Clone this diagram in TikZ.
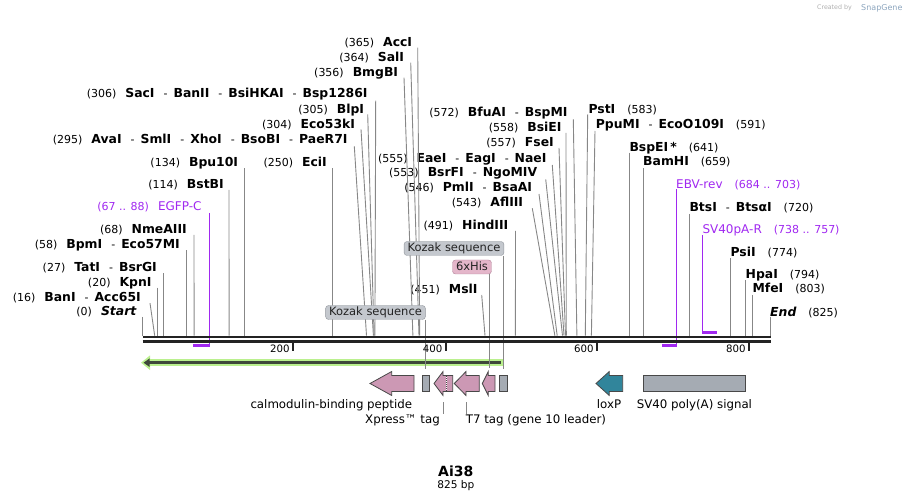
\documentclass[tikz,border=0pt]{standalone}
\usepackage{fontspec}
\setmainfont{DejaVu Sans}
\usetikzlibrary{arrows.meta}

\definecolor{cutgray}{RGB}{135,135,135}
\definecolor{primer}{RGB}{160,40,240}
\definecolor{ftpink}{RGB}{204,152,180}
\definecolor{ftgray}{RGB}{165,171,179}
\definecolor{ftteal}{RGB}{49,133,155}
\definecolor{ftedge}{RGB}{72,72,72}
\definecolor{orfgreen}{RGB}{186,240,142}
\definecolor{orfdark}{RGB}{62,72,58}
\definecolor{kozakfill}{RGB}{196,200,206}
\definecolor{kozakedge}{RGB}{145,150,156}
\definecolor{hisfill}{RGB}{228,182,202}
\definecolor{hisedge}{RGB}{176,130,152}
\definecolor{bbdark}{RGB}{35,35,35}

\newcommand{\bpnum}[1]{{\fontsize{11}{13}\selectfont(#1)}}
\newcommand{\enz}[1]{{\fontsize{12.4}{14}\selectfont\bfseries #1}}
\newcommand{\dsh}{{\fontsize{11}{13}\selectfont\hspace{9pt}-\hspace{6pt}}}
\newcommand{\numgap}{\hspace{9pt}}
\newcommand{\rgap}{\hspace{12pt}}
\newcommand{\prname}[1]{{\fontsize{12}{14}\selectfont #1}}
\newcommand{\leftft}[4]{\draw[#1] (#2,383.5) -- (#3,371.5) -- (#3,375.5) -- (#4,375.5) -- (#4,391.5) -- (#3,391.5) -- (#3,395.5) -- cycle;}

\begin{document}
\begin{tikzpicture}[x=1pt,y=-1pt,
    lbl/.style={inner sep=0pt, text=black},
    primerlbl/.style={inner sep=0pt, text=primer},
    ftlbl/.style={inner sep=0pt, text=black, font=\fontsize{11.8}{14}\selectfont},
    cutl/.style={draw=cutgray, line width=0.9pt},
    primerline/.style={draw=primer, line width=1.3pt},
    primerbar/.style={draw=primer, line width=2.5pt},
    backbone/.style={draw=bbdark, line width=2.7pt},
    tickl/.style={draw=bbdark, line width=2pt},
    ticklbl/.style={inner sep=0pt, font=\fontsize{10.2}{12}\selectfont},
    kozak/.style={draw=kozakedge, fill=kozakfill, rounded corners=3pt, inner xsep=3.5pt, inner ysep=1.5pt, text height=8.6pt, text depth=2.4pt, font=\fontsize{11.5}{13}\selectfont, text={rgb,255:red,35;green,35;blue,35}},
    his/.style={kozak, draw=hisedge, fill=hisfill},
    pinkft/.style={draw=ftedge, fill=ftpink, line width=0.8pt, line join=miter},
    tealft/.style={draw=ftedge, fill=ftteal, line width=0.8pt},
    grayft/.style={draw=ftedge, fill=ftgray, line width=0.8pt, inner sep=0pt, minimum height=15.5pt}]
\useasboundingbox (0,0) rectangle (913,502);

% watermark
\node[inner sep=0pt, anchor=base east, text={rgb,255:red,175;green,175;blue,175}, font=\fontsize{6.3}{7}\selectfont] (credit) at (852,10) {Created by};
\node[inner sep=0pt, anchor=base west, text={rgb,255:red,140;green,165;blue,190}, font=\fontsize{8}{9}\selectfont] (logo) at (861,10.5) {SnapGene};

% orf
\draw[orfgreen, line width=7.5pt, -{Triangle[length=9pt,width=14pt]}] (502.5,362.7) -- (141,362.7);
\draw[orfdark, line width=2.4pt, -{Triangle[length=6pt,width=8pt]}] (500.5,362.7) -- (143.5,362.7);

% cut site labels, left side
\node[lbl, anchor=base east] (lStart) at (136.5,316) {\bpnum{0}\numgap\enz{\itshape Start}};
\node[lbl, anchor=base east] (lBanI) at (141,301.6) {\bpnum{16}\numgap\enz{BanI}\dsh\enz{Acc65I}};
\node[lbl, anchor=base east] (lKpnI) at (151.7,286.6) {\bpnum{20}\numgap\enz{KpnI}};
\node[lbl, anchor=base east] (lTatI) at (157,271.6) {\bpnum{27}\numgap\enz{TatI}\dsh\enz{BsrGI}};
\node[lbl, anchor=base east] (lBpmI) at (180,248.3) {\bpnum{58}\numgap\enz{BpmI}\dsh\enz{Eco57MI}};
\node[lbl, anchor=base east] (lNmeAIII) at (187,233.3) {\bpnum{68}\numgap\enz{NmeAIII}};
\node[primerlbl, anchor=base east] (lEGFPC) at (201.7,211) {\bpnum{67 .. 88}\numgap\prname{EGFP-C}};
\node[lbl, anchor=base east] (lBstBI) at (224,188.3) {\bpnum{114}\numgap\enz{BstBI}};
\node[lbl, anchor=base east] (lBpuI) at (238.3,166.6) {\bpnum{134}\numgap\enz{Bpu10I}};
\node[lbl, anchor=base east] (lEciI) at (327,166.6) {\bpnum{250}\numgap\enz{EciI}};
\node[lbl, anchor=base east] (lAvaI) at (347.7,143.3) {\bpnum{295}\numgap\enz{AvaI}\dsh\enz{SmlI}\dsh\enz{XhoI}\dsh\enz{BsoBI}\dsh\enz{PaeR7I}};
\node[lbl, anchor=base east] (lEcoI) at (355.3,128.3) {\bpnum{304}\numgap\enz{Eco53kI}};
\node[lbl, anchor=base east] (lBlpI) at (364.3,113.3) {\bpnum{305}\numgap\enz{BlpI}};
\node[lbl, anchor=base east] (lSacI) at (367.7,97.6) {\bpnum{306}\numgap\enz{SacI}\dsh\enz{BanII}\dsh\enz{BsiHKAI}\dsh\enz{Bsp1286I}};
\node[lbl, anchor=base east] (lBmgBI) at (398.3,76.6) {\bpnum{356}\numgap\enz{BmgBI}};
\node[lbl, anchor=base east] (lSalI) at (404.3,61.6) {\bpnum{364}\numgap\enz{SalI}};
\node[lbl, anchor=base east] (lAccI) at (412.3,46.6) {\bpnum{365}\numgap\enz{AccI}};

% middle
\node[lbl, anchor=base east] (lBfuAI) at (567.7,117) {\bpnum{572}\numgap\enz{BfuAI}\dsh\enz{BspMI}};
\node[lbl, anchor=base east] (lBsiEI) at (561.7,132) {\bpnum{558}\numgap\enz{BsiEI}};
\node[lbl, anchor=base east] (lFseI) at (554,147) {\bpnum{557}\numgap\enz{FseI}};
\node[lbl, anchor=base east] (lEaeI) at (546.7,162.6) {\bpnum{555}\numgap\enz{EaeI}\dsh\enz{EagI}\dsh\enz{NaeI}};
\node[lbl, anchor=base east] (lBsrFI) at (537.3,176.6) {\bpnum{553}\numgap\enz{BsrFI}\dsh\enz{NgoMIV}};
\node[lbl, anchor=base east] (lPmlI) at (532.3,192) {\bpnum{546}\numgap\enz{PmlI}\dsh\enz{BsaAI}};
\node[lbl, anchor=base east] (lAflIII) at (523.3,207) {\bpnum{543}\numgap\enz{AflIII}};
\node[lbl, anchor=base east] (lHindIII) at (508.5,229.3) {\bpnum{491}\numgap\enz{HindIII}};
\node[lbl, anchor=base east] (lMslI) at (477.7,293.3) {\bpnum{451}\numgap\enz{MslI}};

% right side
\node[lbl, anchor=base west] (lPstI) at (588.3,113.3) {\enz{PstI}\rgap\bpnum{583}};
\node[lbl, anchor=base west] (lPpuMI) at (595.7,128.3) {\enz{PpuMI}\dsh\enz{EcoO109I}\rgap\bpnum{591}};
\node[lbl, anchor=base west] (lBspEI) at (629.3,151.6) {\enz{BspEI\,*}\rgap\bpnum{641}};
\node[lbl, anchor=base west] (lBamHI) at (643,166) {\enz{BamHI}\rgap\bpnum{659}};
\node[primerlbl, anchor=base west] (lEBV) at (676,188.6) {\prname{EBV-rev}\rgap\bpnum{684 .. 703}};
\node[lbl, anchor=base west] (lBtsI) at (689.3,211.6) {\enz{BtsI}\dsh\enz{BtsαI}\rgap\bpnum{720}};
\node[primerlbl, anchor=base west] (lSVR) at (702.3,233.6) {\prname{SV40pA-R}\rgap\bpnum{738 .. 757}};
\node[lbl, anchor=base west] (lPsiI) at (730.4,256.6) {\enz{PsiI}\rgap\bpnum{774}};
\node[lbl, anchor=base west] (lHpaI) at (745.5,278.3) {\enz{HpaI}\rgap\bpnum{794}};
\node[lbl, anchor=base west] (lMfeI) at (752.4,293) {\enz{MfeI}\rgap\bpnum{803}};
\node[lbl, anchor=base west] (lEnd) at (770,316.3) {\enz{\itshape End}\rgap\bpnum{825}};

% sites on the backbone
\coordinate (sStart) at (142.5,335.7);
\coordinate (sBanI) at (154.7,335.7);
\coordinate (sKpnI) at (157.7,335.7);
\coordinate (sTatI) at (163,335.7);
\coordinate (sBpmI) at (186.5,335.7);
\coordinate (sNmeAIII) at (194.1,335.7);
\coordinate (sBstBI) at (229.1,335.7);
\coordinate (sBpuI) at (244.3,335.7);
\coordinate (sEciI) at (332.4,335.7);
\coordinate (sAvaI) at (366.5,335.7);
\coordinate (sEcoI) at (373.4,335.7);
\coordinate (sBlpI) at (374.1,335.7);
\coordinate (sSacI) at (374.9,335.7);
\coordinate (sBmgBI) at (412.9,335.7);
\coordinate (sSalI) at (419,335.7);
\coordinate (sAccI) at (419.7,335.7);
\coordinate (sMslI) at (485,335.7);
\coordinate (sHindIII) at (515.4,335.7);
\coordinate (sAflIII) at (554.9,335.7);
\coordinate (sPmlI) at (557.2,335.7);
\coordinate (sBsrFI) at (562.5,335.7);
\coordinate (sEaeI) at (564,335.7);
\coordinate (sFseI) at (565.5,335.7);
\coordinate (sBsiEI) at (566.3,335.7);
\coordinate (sBfuAI) at (576.9,335.7);
\coordinate (sPstI) at (585.3,335.7);
\coordinate (sPpuMI) at (591.4,335.7);
\coordinate (sBspEI) at (629.3,335.7);
\coordinate (sBamHI) at (643,335.7);
\coordinate (sBtsI) at (689.3,335.7);
\coordinate (sPsiI) at (730.4,335.7);
\coordinate (sHpaI) at (745.5,335.7);
\coordinate (sMfeI) at (752.4,335.7);
\coordinate (sEnd) at (770,335.7);

\draw[cutl] ([shift={(6,1)}]lStart.base east) -- (sStart);
\draw[cutl] ([shift={(9,1.5)}]lBanI.base east) -- (sBanI);
\draw[cutl] ([shift={(6,1)}]lKpnI.base east) -- (sKpnI);
\draw[cutl] ([shift={(6,1.5)}]lTatI.base east) -- (sTatI);
\draw[cutl] ([shift={(6.5,2)}]lBpmI.base east) -- (sBpmI);
\draw[cutl] ([shift={(7,1.5)}]lNmeAIII.base east) -- (sNmeAIII);
\draw[cutl] ([shift={(5,1.5)}]lBstBI.base east) -- (sBstBI);
\draw[cutl] ([shift={(6,1.5)}]lBpuI.base east) -- (sBpuI);
\draw[cutl] ([shift={(5.4,1.5)}]lEciI.base east) -- (sEciI);
\draw[cutl] ([shift={(6.6,3)}]lAvaI.base east) -- (sAvaI);
\draw[cutl] ([shift={(5.7,1)}]lEcoI.base east) -- (sEcoI);
\draw[cutl] ([shift={(3.4,1)}]lBlpI.base east) -- (sBlpI);
\draw[cutl] ([shift={(8,3)}]lSacI.base east) -- (sSacI);
\draw[cutl] ([shift={(5.7,1)}]lBmgBI.base east) -- (sBmgBI);
\draw[cutl] ([shift={(6.4,1)}]lSalI.base east) -- (sSalI);
\draw[cutl] ([shift={(5.4,1)}]lAccI.base east) -- (sAccI);
\draw[cutl] ([shift={(5.6,2.3)}]lBfuAI.base east) -- (sBfuAI);
\draw[cutl] ([shift={(4.3,1)}]lBsiEI.base east) -- (sBsiEI);
\draw[cutl] ([shift={(5,1)}]lFseI.base east) -- (sFseI);
\draw[cutl] ([shift={(5.6,2.4)}]lEaeI.base east) -- (sEaeI);
\draw[cutl] ([shift={(8.4,2.7)}]lBsrFI.base east) -- (sBsrFI);
\draw[cutl] ([shift={(6.7,2)}]lPmlI.base east) -- (sPmlI);
\draw[cutl] ([shift={(9,1.3)}]lAflIII.base east) -- (sAflIII);
\draw[cutl] ([shift={(7,1.7)}]lHindIII.base east) -- (sHindIII);
\draw[cutl] ([shift={(4,1.7)}]lMslI.base east) -- (sMslI);
\draw[cutl] ([shift={(-0.6,1)}]lPstI.base west) -- (sPstI);
\draw[cutl] ([shift={(-0.7,2.7)}]lPpuMI.base west) -- (sPpuMI);
\draw[cutl] ([shift={(0,1.1)}]lBspEI.base west) -- (sBspEI);
\draw[cutl] ([shift={(0,2.3)}]lBamHI.base west) -- (sBamHI);
\draw[cutl] ([shift={(0,2.4)}]lBtsI.base west) -- (sBtsI);
\draw[cutl] ([shift={(0,1.7)}]lPsiI.base west) -- (sPsiI);
\draw[cutl] ([shift={(0,1.7)}]lHpaI.base west) -- (sHpaI);
\draw[cutl] ([shift={(0,2)}]lMfeI.base west) -- (sMfeI);
\draw[cutl] ([shift={(0,0.4)}]lEnd.base west) -- (sEnd);

% primers
\coordinate (pEGFPs) at (193.4,345.7);
\coordinate (pEGFPe) at (209.3,345.7);
\coordinate (pEBVs) at (662,345.7);
\coordinate (pEBVe) at (676.4,345.7);
\coordinate (pSVs) at (702.8,332.7);
\coordinate (pSVe) at (717.4,332.7);
\draw[primerline] ([shift={(7.6,2)}]lEGFPC.base east) -- (pEGFPe);
\draw[primerbar] (pEGFPs) -- ([xshift=0.6pt]pEGFPe);
\draw[primerline] ([shift={(0.4,0.7)}]lEBV.base west) -- (pEBVe);
\draw[primerbar] (pEBVs) -- ([xshift=0.6pt]pEBVe);
\draw[primerline] ([shift={(0.5,1.4)}]lSVR.base west) -- (pSVs);
\draw[primerbar] ([xshift=-0.6pt]pSVs) -- (pSVe);

% features
\node[grayft, minimum width=6.7pt] (fKozA) at (425.7,383.5) {};
\node[grayft, minimum width=8.7pt] (fKozB) at (503.3,383.5) {};
\node[grayft, minimum width=102.7pt] (fSV40) at (694.4,383.5) {};
\leftft{pinkft}{370}{391.7}{414}
\leftft{pinkft}{434}{443}{452.7}
\draw[white, line width=0.9pt] (446,376) -- (446,391);
\draw[ftedge, line width=0.9pt, dash pattern=on 1pt off 1pt] (446,376) -- (446,391);
\leftft{pinkft}{454.3}{466}{479.3}
\leftft{pinkft}{482.3}{488.3}{495}
\leftft{tealft}{596}{609.3}{622.7}
\coordinate (fHis) at (489,371.5);

% feature labels above
\node[kozak] (lKozA) at (375.5,312.5) {Kozak sequence};
\node[kozak] (lKozB) at (454,248.5) {Kozak sequence};
\node[his] (lHis) at (472,267) {6xHis};
\draw[cutl, shorten >=6pt] (fKozA.north |- lKozA.south) -- (fKozA.north);
\draw[cutl, shorten >=6pt] (fKozB.north |- lKozB.south) -- (fKozB.north);
\draw[cutl, shorten >=3pt] (fHis |- lHis.south) -- (fHis);

% backbone and ticks
\coordinate (bbL) at (142.5,339.2);
\coordinate (bbR) at (770.7,339.2);
\draw[backbone] ([yshift=2.2pt]bbL) -- ([yshift=2.2pt]bbR);
\draw[backbone] ([yshift=-2.1pt]bbL) -- ([yshift=-2.1pt]bbR);
\coordinate (tk200) at (293.3,342.5);
\coordinate (tk400) at (446,342.5);
\coordinate (tk600) at (597.4,342.5);
\coordinate (tk800) at (749.4,342.5);
\draw[tickl] (tk200) -- ++(0,8.2);
\draw[tickl] (tk400) -- ++(0,8.2);
\draw[tickl] (tk600) -- ++(0,8.2);
\draw[tickl] (tk800) -- ++(0,8.2);
\node[ticklbl, anchor=base east] (n200) at ([shift={(-3.5,10.2)}]tk200) {200};
\node[ticklbl, anchor=base east] (n400) at ([shift={(-3.5,10.2)}]tk400) {400};
\node[ticklbl, anchor=base east] (n600) at ([shift={(-3.5,10.2)}]tk600) {600};
\node[ticklbl, anchor=base east] (n800) at ([shift={(-3.5,10.2)}]tk800) {800};

% feature labels below
\node[ftlbl, anchor=base] (lCBP) at (331.3,408.3) {calmodulin-binding peptide};
\node[ftlbl, anchor=base] (lLoxP) at (609,408.3) {loxP};
\node[ftlbl, anchor=base] (lSV40) at (694.4,408.3) {SV40 poly(A) signal};
\coordinate (xpTop) at (443.3,402.3);
\coordinate (t7Top) at (466.7,402.3);
\node[ftlbl, anchor=base east] (lXpress) at (440,423.3) {Xpress™ tag};
\node[ftlbl, anchor=base west] (lT7) at (465.7,423.3) {T7 tag (gene 10 leader)};
\draw[cutl] (xpTop) -- (xpTop |- lXpress.north);
\draw[cutl] (t7Top) -- (t7Top |- lT7.north);

% title
\node[inner sep=0pt, anchor=base, font=\fontsize{14}{16}\selectfont\bfseries] (title) at (455.8,476.8) {Ai38};
\node[inner sep=0pt, anchor=base, font=\fontsize{10.6}{12}\selectfont] (size) at (455.8,488.5) {825 bp};
\end{tikzpicture}
\end{document}
